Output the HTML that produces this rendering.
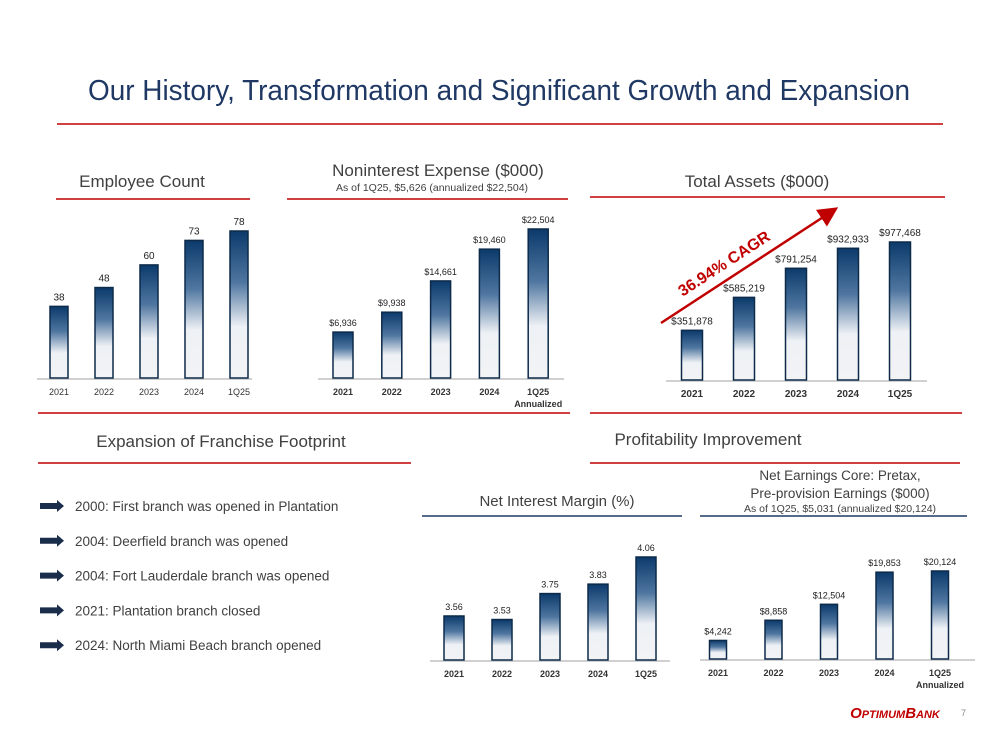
<!DOCTYPE html>
<html><head><meta charset="utf-8"><style>
body{margin:0;background:#fff;}
svg{display:block;font-family:"Liberation Sans",sans-serif;}
.hd{fill:#404040;font-size:17px;text-anchor:middle}
.sub{fill:#404040;font-size:10.5px;text-anchor:middle}
.bl{fill:#404040;font-size:13.5px}
</style></head><body>
<svg id="s" width="1000" height="750" viewBox="0 0 1000 750">
<defs>
<linearGradient id="g" x1="0" y1="0" x2="0" y2="1">
<stop offset="0" stop-color="#0b3a6b"/><stop offset="0.35" stop-color="#4f76a0"/><stop offset="0.65" stop-color="#eef1f5"/><stop offset="1" stop-color="#f2f3f5"/>
</linearGradient>
<marker id="ah" markerWidth="8" markerHeight="8" refX="6" refY="4" orient="auto"><path d="M0,0 L8,4 L0,8 z" fill="#c00000"/></marker>
</defs>
<text x="88" y="100" textLength="822" lengthAdjust="spacingAndGlyphs" font-size="29" fill="#1f3864">Our History, Transformation and Significant Growth and Expansion</text>
<line x1="57" y1="124" x2="943" y2="124" stroke="#c00000" stroke-width="1.5"/>

<text x="142" y="187" class="hd">Employee Count</text>
<line x1="56" y1="199" x2="250" y2="199" stroke="#c00000" stroke-width="1.5"/>
<text x="438" y="176" class="hd">Noninterest Expense ($000)</text>
<text x="432" y="191" class="sub">As of 1Q25, $5,626 (annualized $22,504)</text>
<line x1="287" y1="199" x2="568" y2="199" stroke="#c00000" stroke-width="1.5"/>
<text x="757" y="187" class="hd">Total Assets ($000)</text>
<line x1="590" y1="197" x2="945" y2="197" stroke="#c00000" stroke-width="1.5"/>
<line x1="38" y1="413" x2="570" y2="413" stroke="#c00000" stroke-width="1.5"/>
<line x1="590" y1="413" x2="962" y2="413" stroke="#c00000" stroke-width="1.5"/>

<text x="221" y="447" class="hd">Expansion of Franchise Footprint</text>
<line x1="38" y1="463" x2="411" y2="463" stroke="#c00000" stroke-width="1.5"/>
<text x="708" y="445" class="hd">Profitability Improvement</text>
<line x1="590" y1="463" x2="960" y2="463" stroke="#c00000" stroke-width="1.5"/>
<text x="557" y="506" class="hd" style="font-size:15px">Net Interest Margin (%)</text>
<line x1="422" y1="516" x2="682" y2="516" stroke="#1f3864" stroke-width="1.5"/>
<text x="840" y="480" class="hd" style="font-size:13.5px">Net Earnings Core: Pretax,</text>
<text x="840" y="498" class="hd" style="font-size:13.5px">Pre-provision Earnings ($000)</text>
<text x="840" y="512" class="sub">As of 1Q25, $5,031 (annualized $20,124)</text>
<line x1="700" y1="516" x2="967" y2="516" stroke="#1f3864" stroke-width="1.5"/>

<g id="bullets"></g>
<line x1="661" y1="323" x2="834" y2="210" stroke="#c00000" stroke-width="2.5" marker-end="url(#ah)"/>
<text x="727" y="268" transform="rotate(-33 727 268)" text-anchor="middle" font-size="16" font-weight="bold" fill="#c00000">36.94% CAGR</text>
<text x="895" y="718" text-anchor="middle" font-size="15" font-weight="bold" font-style="italic" fill="#c00000">O<tspan font-size="11">PTIMUM</tspan>B<tspan font-size="11">ANK</tspan></text>
<text x="961" y="716" font-size="9" fill="#888">7</text>
</svg>
<script>
const NS="http://www.w3.org/2000/svg";
const svg=document.getElementById('s');
const bulletItems=["2000: First branch was opened in Plantation","2004: Deerfield branch was opened","2004: Fort Lauderdale branch was opened","2021: Plantation branch closed","2024: North Miami Beach branch opened"];

const empCats=["2021","2022","2023","2024","1Q25"];
const empVals=[38,48,60,73,78];
const empLabels=["38","48","60","73","78"];
const nieCats=["2021","2022","2023","2024","1Q25"];
const nieVals=[6936,9938,14661,19460,22504];
const nieLabels=["$6,936","$9,938","$14,661","$19,460","$22,504"];
const taCats=["2021","2022","2023","2024","1Q25"];
const taVals=[351878,585219,791254,932933,977468];
const taLabels=["$351,878","$585,219","$791,254","$932,933","$977,468"];
const nimCats=["2021","2022","2023","2024","1Q25"];
const nimVals=[3.56,3.53,3.75,3.83,4.06];
const nimLabels=["3.56","3.53","3.75","3.83","4.06"];
const neCats=["2021","2022","2023","2024","1Q25"];
const neVals=[4242,8858,12504,19853,20124];
const neLabels=["$4,242","$8,858","$12,504","$19,853","$20,124"];

function mk(tag,attrs,txt){const e=document.createElementNS(NS,tag);for(const k in attrs)e.setAttribute(k,attrs[k]);if(txt!=null)e.textContent=txt;return e;}

function chart(name,cats,vals,labels,o){
  const g=mk('g',{});
  
  
  svg.appendChild(g);
  const y=v=>o.base-(v-o.min)/(o.max-o.min)*o.h;
  const x=i=>o.x0+i*o.step;
  const ax=mk('line',{x1:o.ax1,x2:o.ax2,y1:o.base+1,y2:o.base+1,stroke:'#d0d0d0','stroke-width':2});
  
  
  g.appendChild(ax);
  cats.forEach((c,i)=>{
    const t=y(vals[i]);
    const r=mk('rect',{x:x(i)-o.w/2,y:t,width:o.w,height:o.base-t,fill:'url(#g)',stroke:'#0d2a4a','stroke-width':1.5});
    
    
    g.appendChild(r);
    const vl=mk('text',{x:x(i),y:t-6,'text-anchor':'middle','font-size':o.fs,fill:'#222'},labels[i]);
    
    
    g.appendChild(vl);
    const cl=mk('text',{x:x(i),y:o.base+17,'text-anchor':'middle','font-size':o.cfs,'font-weight':o.bold?'bold':'normal',fill:'#333'},c);
    
    
    g.appendChild(cl);
    if(o.ann&&i===cats.length-1){
      const a=mk('text',{x:x(i),y:o.base+29,'text-anchor':'middle','font-size':o.cfs,'font-weight':o.bold?'bold':'normal',fill:'#333'},'Annualized');
      
      
      g.appendChild(a);
    }
  });
}
chart('employee-chart',empCats,empVals,empLabels,{x0:59,step:45,w:18,base:378,min:0,max:78,h:147,ax1:37,ax2:252,fs:10,cfs:9});
chart('noninterest-chart',nieCats,nieVals,nieLabels,{x0:343,step:48.8,w:20,base:378,min:0,max:22504,h:149,ax1:318,ax2:564,fs:9,cfs:9,bold:true,ann:true});
chart('total-assets-chart',taCats,taVals,taLabels,{x0:692,step:52,w:21,base:380,min:0,max:977468,h:138,ax1:666,ax2:927,fs:10,cfs:10,bold:true});
chart('nim-chart',nimCats,nimVals,nimLabels,{x0:454,step:48,w:20,base:660,min:3.187,max:4.06,h:103,ax1:430,ax2:670,fs:9,cfs:9,bold:true});
chart('net-earnings-chart',neCats,neVals,neLabels,{x0:718,step:55.5,w:17,base:659,min:0,max:20124,h:88,ax1:700,ax2:975,fs:9,cfs:9,bold:true,ann:true});

const bg=document.getElementById('bullets');
bulletItems.forEach((t,i)=>{
  const yy=506+i*34.8;
  const a=mk('path',{d:`M40,${yy-3} L57,${yy-3} L57,${yy-6} L64,${yy} L57,${yy+6} L57,${yy+3} L40,${yy+3} z`,fill:'#1a2e4c'});
  
  
  bg.appendChild(a);
  const tx=mk('text',{x:75,y:yy+5,class:'bl'},t);
  
  
  bg.appendChild(tx);
});
</script>
</body></html>
